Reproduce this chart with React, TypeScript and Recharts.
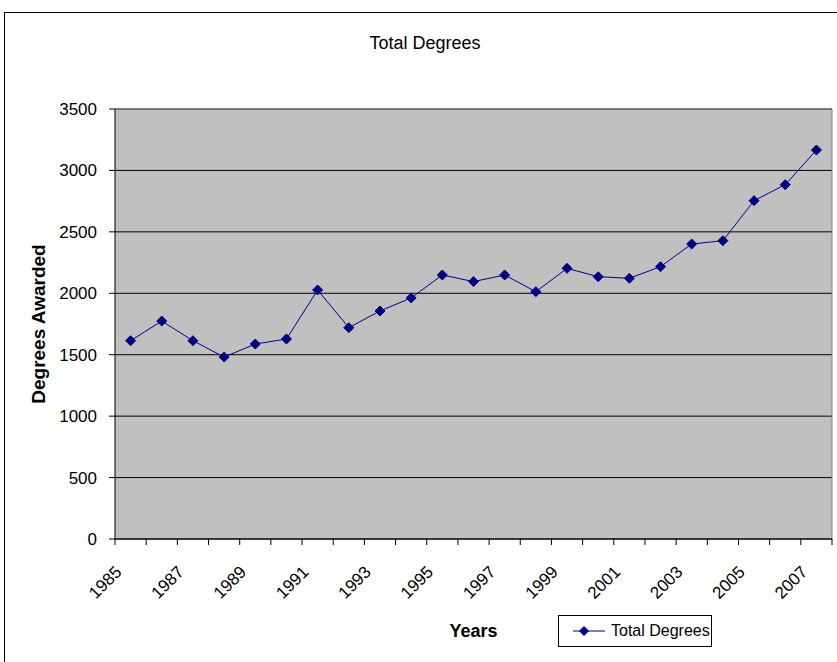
import React from "react";
import { LineChart, Line, XAxis, YAxis, CartesianGrid, Legend, Label, ReferenceLine } from "recharts";

const YEARS = [
  1985, 1986, 1987, 1988, 1989, 1990, 1991, 1992, 1993, 1994, 1995, 1996,
  1997, 1998, 1999, 2000, 2001, 2002, 2003, 2004, 2005, 2006, 2007,
];
const TOTAL_DEGREES = [
  1614, 1774, 1614, 1481, 1587, 1628, 2027, 1720, 1856, 1962, 2149, 2095,
  2149, 2013, 2203, 2135, 2122, 2217, 2401, 2428, 2754, 2884, 3166,
];
const Y_TICKS = [0, 500, 1000, 1500, 2000, 2500, 3000, 3500];
const LABELED_YEARS = [1985, 1987, 1989, 1991, 1993, 1995, 1997, 1999, 2001, 2003, 2005, 2007];

const data = YEARS.map((year, i) => ({ year, total: TOTAL_DEGREES[i] }));
// tick marks sit between categories, labels sit on them
const bandEdges = [...YEARS.map((y) => y - 0.5), YEARS[YEARS.length - 1] + 0.5];
const xTicks = [...bandEdges, ...LABELED_YEARS].sort((a, b) => a - b);

const NAVY = "#000080";
const FONT = "Arial, 'Liberation Sans', sans-serif";

function YearTick(props: any) {
  const { x, y, payload } = props;
  const v = payload.value;
  if (!Number.isInteger(v)) {
    return <line x1={x} y1={y} x2={x} y2={y + 6} stroke="#000" />;
  }
  const px = x - 8;
  const py = y + 34;
  return (
    <text
      x={px}
      y={py}
      transform={`rotate(-45, ${px}, ${py})`}
      textAnchor="end"
      fontSize={17}
      fontFamily={FONT}
      fill="#000"
    >
      {v}
    </text>
  );
}

function Diamond(props: any) {
  const { cx, cy } = props;
  if (cx == null || cy == null) return <g key={props.index} />;
  return (
    <polygon
      key={props.index}
      points={`${cx},${cy - 5} ${cx + 5},${cy} ${cx},${cy + 5} ${cx - 5},${cy}`}
      fill={NAVY}
      stroke={NAVY}
    />
  );
}

function LegendBox() {
  return (
    <div
      style={{
        border: "1px solid #000",
        background: "#fff",
        height: 30,
        width: 152,
        display: "flex",
        alignItems: "center",
        fontFamily: FONT,
        fontSize: 16,
        boxSizing: "content-box",
      }}
    >
      <svg width={46} height={12} style={{ marginLeft: 4 }}>
        <line x1={10} y1={6} x2={42} y2={6} stroke={NAVY} strokeWidth={1} />
        <polygon points="21,1 26,6 21,11 16,6" fill={NAVY} />
      </svg>
      <span style={{ marginLeft: 2 }}>Total Degrees</span>
    </div>
  );
}

export default function App() {
  return (
    <div style={{ position: "absolute", left: 0, top: 0, width: 837, height: 662, overflow: "hidden", background: "#fff" }}>
      <div
        style={{
          position: "absolute",
          left: 4,
          top: 12,
          width: 842,
          height: 670,
          border: "1px solid #000",
          boxSizing: "border-box",
        }}
      />
      <div
        style={{
          position: "absolute",
          left: 4,
          top: 33,
          width: 842,
          textAlign: "center",
          fontFamily: FONT,
          fontSize: 18,
          lineHeight: "20px",
        }}
      >
        Total Degrees
      </div>
      <LineChart
        width={837}
        height={662}
        data={data}
        margin={{ top: 109, right: 5, bottom: 0, left: 0 }}
        style={{ position: "absolute", left: 0, top: 0 }}
      >
        <CartesianGrid vertical={false} fill="#c0c0c0" fillOpacity={1} stroke="#000" />
        <ReferenceLine y={3500} stroke="#808080" />
        <ReferenceLine x={2007.5} stroke="#808080" />
        <XAxis
          dataKey="year"
          type="number"
          domain={[1984.5, 2007.5]}
          ticks={xTicks}
          interval={0}
          height={123}
          tickLine={false}
          tickSize={0}
          tickMargin={0}
          stroke="#000"
          tick={(p: any) => <YearTick key={p.index} {...p} />}
        >
          <Label
            content={(p: any) => {
              const vb = p.viewBox;
              return (
                <text
                  x={vb.x + vb.width / 2}
                  y={vb.y + 98}
                  textAnchor="middle"
                  fontSize={18}
                  fontWeight="bold"
                  fontFamily={FONT}
                  fill="#000"
                >
                  Years
                </text>
              );
            }}
          />
        </XAxis>
        <YAxis
          domain={[0, 3500]}
          ticks={Y_TICKS}
          width={115}
          tickSize={6}
          tickMargin={12}
          stroke="#000"
          tick={{ fill: "#000", fontSize: 17, fontFamily: FONT }}
        >
          <Label
            content={(p: any) => {
              const vb = p.viewBox;
              const cx = 45;
              const cy = vb.y + vb.height / 2;
              return (
                <text
                  x={cx}
                  y={cy}
                  transform={`rotate(-90, ${cx}, ${cy})`}
                  textAnchor="middle"
                  fontSize={19}
                  fontWeight="bold"
                  fontFamily={FONT}
                  fill="#000"
                >
                  Degrees Awarded
                </text>
              );
            }}
          />
        </YAxis>
        <Legend
          layout="horizontal"
          verticalAlign="middle"
          align="center"
          content={() => <LegendBox />}
          wrapperStyle={{ left: 558, top: 615, width: 154, height: 32 }}
        />
        <Line
          dataKey="total"
          name="Total Degrees"
          stroke={NAVY}
          strokeWidth={1}
          dot={(p: any) => <Diamond key={p.index} {...p} />}
          activeDot={false}
          isAnimationActive={false}
        />
      </LineChart>
    </div>
  );
}
